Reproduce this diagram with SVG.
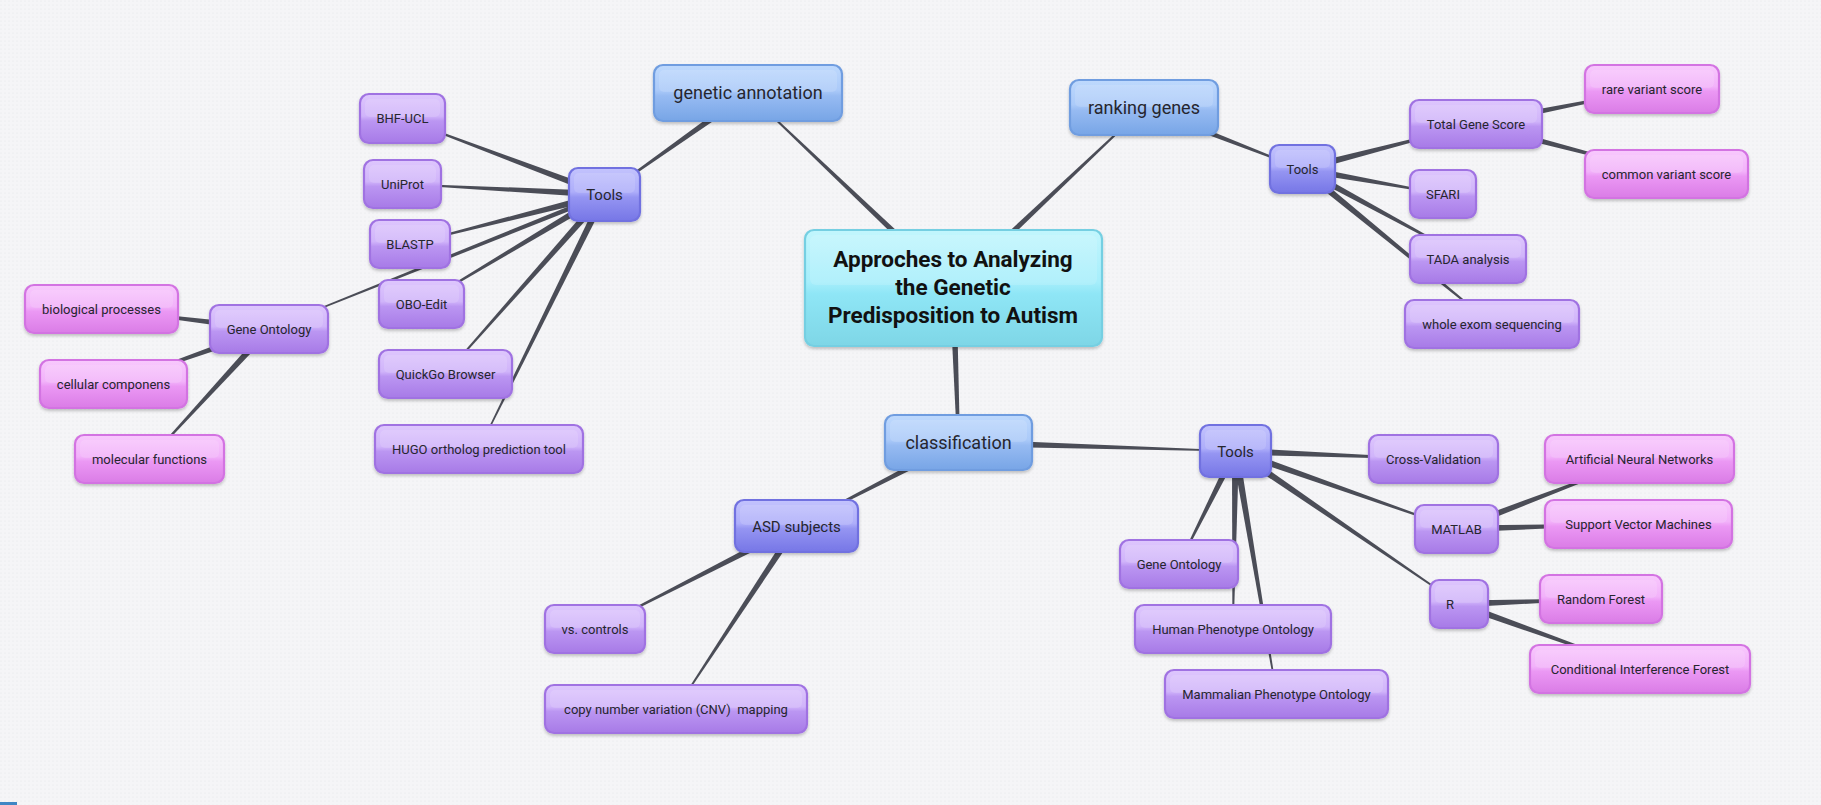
<svg xmlns="http://www.w3.org/2000/svg" width="1821" height="805" viewBox="0 0 1821 805">
<defs>
<pattern id="dots" width="4" height="4" patternUnits="userSpaceOnUse"><rect width="4" height="4" fill="#f5f5f7"/><circle cx="1" cy="1" r="0.6" fill="#e5e6ea"/></pattern>
<linearGradient id="g0" x1="0" y1="0" x2="0" y2="1"><stop offset="0" stop-color="#c2f6fd"/><stop offset="0.45" stop-color="#a6eefb"/><stop offset="0.55" stop-color="#8fe6f6"/><stop offset="1" stop-color="#7ed6e6"/></linearGradient>
<linearGradient id="g1" x1="0" y1="0" x2="0" y2="1"><stop offset="0" stop-color="#bed9fd"/><stop offset="0.45" stop-color="#abcaf9"/><stop offset="0.55" stop-color="#97bbf2"/><stop offset="1" stop-color="#77a5e6"/></linearGradient>
<linearGradient id="g2" x1="0" y1="0" x2="0" y2="1"><stop offset="0" stop-color="#c3c3fd"/><stop offset="0.45" stop-color="#aeaefa"/><stop offset="0.55" stop-color="#9595f2"/><stop offset="1" stop-color="#7676e6"/></linearGradient>
<linearGradient id="g3" x1="0" y1="0" x2="0" y2="1"><stop offset="0" stop-color="#dec7fd"/><stop offset="0.45" stop-color="#d0b4fa"/><stop offset="0.55" stop-color="#bb96f2"/><stop offset="1" stop-color="#a77ae7"/></linearGradient>
<linearGradient id="g4" x1="0" y1="0" x2="0" y2="1"><stop offset="0" stop-color="#f8c9fd"/><stop offset="0.45" stop-color="#f2b2fa"/><stop offset="0.55" stop-color="#eb98f4"/><stop offset="1" stop-color="#da7ce6"/></linearGradient>
<filter id="sh" x="-10%" y="-10%" width="120%" height="130%"><feDropShadow dx="0" dy="2" stdDeviation="1.5" flood-color="#000" flood-opacity="0.22"/></filter>
</defs>
<style>
.box{stroke-width:2.2;filter:url(#sh)}
.c0{fill:url(#g0);stroke:#74cfe2}
.c1{fill:url(#g1);stroke:#6f9de0}
.c2{fill:url(#g2);stroke:#7171e0}
.c3{fill:url(#g3);stroke:#a072e2}
.c4{fill:url(#g4);stroke:#d373e2}
.hl{fill:#ffffff;fill-opacity:0.13}
text{font-family:Roboto,"Liberation Sans",sans-serif;fill:#26262e;text-anchor:middle}
.t0{font-size:22.5px;font-weight:bold;fill:#111}
.t1{font-size:18px}
.t2{font-size:15px}
.t3{font-size:13px}
.conn polygon{fill:#4b4d57}
</style>
<rect width="1821" height="805" fill="url(#dots)"/>
<rect x="0" y="802" width="17" height="3" fill="#3f86c4"/>
<g id="connectors" class="conn">
<polygon points="955.4,285.5 748.4,92.6 747.6,93.4 950.6,290.5"/>
<polygon points="955.4,290.5 1144.4,107.9 1143.6,107.1 950.6,285.5"/>
<polygon points="949.5,288.1 957,442.6 960,442.4 956.5,287.9"/>
<polygon points="746,90.1 604.2,194 604.9,195 750,95.9"/>
<polygon points="605.7,191.2 402.7,117.9 402.3,119.1 603.3,197.8"/>
<polygon points="604.7,191 402.5,183.4 402.5,184.6 604.3,198"/>
<polygon points="603.6,191.1 409.9,243.4 410.2,244.6 605.4,197.9"/>
<polygon points="602.7,191.5 421.2,303.5 421.8,304.5 606.3,197.5"/>
<polygon points="601.9,192.2 445.1,373.6 446,374.4 607.1,196.8"/>
<polygon points="601.4,193 478.5,448.7 479.5,449.3 607.6,196"/>
<polygon points="603.6,192.2 268.8,328.4 269.2,329.6 605.4,196.8"/>
<polygon points="269.4,325.5 101.6,308.4 101.4,309.6 268.6,332.5"/>
<polygon points="267.8,325.7 113.3,383.4 113.7,384.6 270.2,332.3"/>
<polygon points="266.4,326.6 149.1,458.6 149.9,459.4 271.6,331.4"/>
<polygon points="1142.7,110.8 1302.3,169.6 1302.7,168.4 1145.3,104.2"/>
<polygon points="1303.4,172.4 1476.2,124.6 1475.9,123.4 1301.6,165.6"/>
<polygon points="1301.9,172.5 1442.9,194.6 1443.1,193.4 1303.1,165.5"/>
<polygon points="1300.8,172.1 1467.7,259.5 1468.3,258.5 1304.2,165.9"/>
<polygon points="1300.3,171.7 1491.6,324.5 1492.4,323.5 1304.7,166.3"/>
<polygon points="1476.7,127.4 1652.1,89.6 1651.9,88.4 1475.3,120.6"/>
<polygon points="1475.1,127.4 1666.4,174.6 1666.7,173.4 1476.9,120.6"/>
<polygon points="958.4,446 1235.5,451.6 1235.5,450.4 958.6,439"/>
<polygon points="956.9,439.4 796.2,525.5 796.8,526.5 960.1,445.6"/>
<polygon points="794.9,522.9 594.7,628.5 595.3,629.5 798.1,529.1"/>
<polygon points="793.6,524.1 675.5,708.7 676.5,709.3 799.4,527.9"/>
<polygon points="1235.4,454.5 1433.5,459.6 1433.5,458.4 1235.6,447.5"/>
<polygon points="1234.3,454.3 1456.3,529.6 1456.7,528.4 1236.7,447.7"/>
<polygon points="1233.5,453.9 1458.7,604.5 1459.3,603.5 1237.5,448.1"/>
<polygon points="1232.4,449.4 1178.5,563.7 1179.5,564.3 1238.6,452.6"/>
<polygon points="1232,450.95 1232.4,629 1233.6,629 1239,451.05"/>
<polygon points="1232,451.6 1275.9,694.1 1277.1,693.9 1239,450.4"/>
<polygon points="1457.8,532.3 1639.7,459.6 1639.3,458.4 1455.3,525.7"/>
<polygon points="1456.6,532.5 1638.5,524.6 1638.5,523.4 1456.4,525.5"/>
<polygon points="1459.1,607.5 1601,599.6 1601,598.4 1458.9,600.5"/>
<polygon points="1457.8,607.3 1639.8,669.6 1640.2,668.4 1460.2,600.7"/>
</g>
<g id="n-central"><rect class="box c0" x="805" y="230" width="297" height="116" rx="9"/><rect class="hl" x="810" y="235" width="287" height="50" rx="6"/><text class="t0" x="953" y="267">Approches to Analyzing</text><text class="t0" x="953" y="295">the Genetic</text><text class="t0" x="953" y="323">Predisposition to Autism</text></g>
<g id="n-genetic-annotation"><rect class="box c1" x="654" y="65" width="188" height="56" rx="9"/><rect class="hl" x="659" y="70" width="178" height="22" rx="5"/><text class="t1" x="748" y="99">genetic annotation</text></g>
<g id="n-ranking-genes"><rect class="box c1" x="1070" y="80" width="148" height="55" rx="9"/><rect class="hl" x="1075" y="85" width="138" height="22" rx="5"/><text class="t1" x="1144" y="114">ranking genes</text></g>
<g id="n-classification"><rect class="box c1" x="885" y="415" width="147" height="55" rx="9"/><rect class="hl" x="890" y="420" width="137" height="22" rx="5"/><text class="t1" x="958.5" y="449">classification</text></g>
<g id="n-tools-left"><rect class="box c2" x="569" y="168" width="71" height="53" rx="9"/><rect class="hl" x="574" y="173" width="61" height="20" rx="5"/><text class="t2" x="604.5" y="200">Tools</text></g>
<g id="n-tools-right"><rect class="box c2" x="1270" y="145" width="65" height="48" rx="9"/><rect class="hl" x="1275" y="150" width="55" height="18" rx="5"/><text class="t3" x="1302.5" y="173.5">Tools</text></g>
<g id="n-tools-bottom"><rect class="box c2" x="1200" y="425" width="71" height="52" rx="9"/><rect class="hl" x="1205" y="430" width="61" height="20" rx="5"/><text class="t2" x="1235.5" y="456.5">Tools</text></g>
<g id="n-asd"><rect class="box c2" x="735" y="500" width="123" height="52" rx="9"/><rect class="hl" x="740" y="505" width="113" height="20" rx="5"/><text class="t2" x="796.5" y="531.5">ASD subjects</text></g>
<g id="n-bhf"><rect class="box c3" x="360" y="94" width="85" height="49" rx="9"/><rect class="hl" x="365" y="99" width="75" height="18" rx="5"/><text class="t3" x="402.5" y="123">BHF-UCL</text></g>
<g id="n-uniprot"><rect class="box c3" x="364" y="160" width="77" height="48" rx="9"/><rect class="hl" x="369" y="165" width="67" height="18" rx="5"/><text class="t3" x="402.5" y="188.5">UniProt</text></g>
<g id="n-blastp"><rect class="box c3" x="370" y="220" width="80" height="48" rx="9"/><rect class="hl" x="375" y="225" width="70" height="18" rx="5"/><text class="t3" x="410" y="248.5">BLASTP</text></g>
<g id="n-obo"><rect class="box c3" x="379" y="280" width="85" height="48" rx="9"/><rect class="hl" x="384" y="285" width="75" height="18" rx="5"/><text class="t3" x="421.5" y="308.5">OBO-Edit</text></g>
<g id="n-quickgo"><rect class="box c3" x="379" y="350" width="133" height="48" rx="9"/><rect class="hl" x="384" y="355" width="123" height="18" rx="5"/><text class="t3" x="445.5" y="378.5">QuickGo Browser</text></g>
<g id="n-hugo"><rect class="box c3" x="375" y="425" width="208" height="48" rx="9"/><rect class="hl" x="380" y="430" width="198" height="18" rx="5"/><text class="t3" x="479" y="453.5">HUGO ortholog prediction tool</text></g>
<g id="n-go-left"><rect class="box c3" x="210" y="305" width="118" height="48" rx="9"/><rect class="hl" x="215" y="310" width="108" height="18" rx="5"/><text class="t3" x="269" y="333.5">Gene Ontology</text></g>
<g id="n-bio"><rect class="box c4" x="25" y="285" width="153" height="48" rx="9"/><rect class="hl" x="30" y="290" width="143" height="18" rx="5"/><text class="t3" x="101.5" y="313.5">biological processes</text></g>
<g id="n-cell"><rect class="box c4" x="40" y="360" width="147" height="48" rx="9"/><rect class="hl" x="45" y="365" width="137" height="18" rx="5"/><text class="t3" x="113.5" y="388.5">cellular componens</text></g>
<g id="n-mol"><rect class="box c4" x="75" y="435" width="149" height="48" rx="9"/><rect class="hl" x="80" y="440" width="139" height="18" rx="5"/><text class="t3" x="149.5" y="463.5">molecular functions</text></g>
<g id="n-tgs"><rect class="box c3" x="1410" y="100" width="132" height="48" rx="9"/><rect class="hl" x="1415" y="105" width="122" height="18" rx="5"/><text class="t3" x="1476" y="128.5">Total Gene Score</text></g>
<g id="n-rare"><rect class="box c4" x="1585" y="65" width="134" height="48" rx="9"/><rect class="hl" x="1590" y="70" width="124" height="18" rx="5"/><text class="t3" x="1652" y="93.5">rare variant score</text></g>
<g id="n-common"><rect class="box c4" x="1585" y="150" width="163" height="48" rx="9"/><rect class="hl" x="1590" y="155" width="153" height="18" rx="5"/><text class="t3" x="1666.5" y="178.5">common variant score</text></g>
<g id="n-sfari"><rect class="box c3" x="1410" y="170" width="66" height="48" rx="9"/><rect class="hl" x="1415" y="175" width="56" height="18" rx="5"/><text class="t3" x="1443" y="198.5">SFARI</text></g>
<g id="n-tada"><rect class="box c3" x="1410" y="235" width="116" height="48" rx="9"/><rect class="hl" x="1415" y="240" width="106" height="18" rx="5"/><text class="t3" x="1468" y="263.5">TADA analysis</text></g>
<g id="n-wes"><rect class="box c3" x="1405" y="300" width="174" height="48" rx="9"/><rect class="hl" x="1410" y="305" width="164" height="18" rx="5"/><text class="t3" x="1492" y="328.5">whole exom sequencing</text></g>
<g id="n-vs"><rect class="box c3" x="545" y="605" width="100" height="48" rx="9"/><rect class="hl" x="550" y="610" width="90" height="18" rx="5"/><text class="t3" x="595" y="633.5">vs. controls</text></g>
<g id="n-cnv"><rect class="box c3" x="545" y="685" width="262" height="48" rx="9"/><rect class="hl" x="550" y="690" width="252" height="18" rx="5"/><text class="t3" x="676" y="713.5" xml:space="preserve">copy number variation (CNV)  mapping</text></g>
<g id="n-cv"><rect class="box c3" x="1369" y="435" width="129" height="48" rx="9"/><rect class="hl" x="1374" y="440" width="119" height="18" rx="5"/><text class="t3" x="1433.5" y="463.5">Cross-Validation</text></g>
<g id="n-matlab"><rect class="box c3" x="1415" y="505" width="83" height="48" rx="9"/><rect class="hl" x="1420" y="510" width="73" height="18" rx="5"/><text class="t3" x="1456.5" y="533.5">MATLAB</text></g>
<g id="n-r"><rect class="box c3" x="1430" y="580" width="58" height="48" rx="9"/><rect class="hl" x="1435" y="585" width="48" height="18" rx="5"/><text class="t3" x="1450" y="608.5">R</text></g>
<g id="n-ann"><rect class="box c4" x="1545" y="435" width="189" height="48" rx="9"/><rect class="hl" x="1550" y="440" width="179" height="18" rx="5"/><text class="t3" x="1639.5" y="463.5">Artificial Neural Networks</text></g>
<g id="n-svm"><rect class="box c4" x="1545" y="500" width="187" height="48" rx="9"/><rect class="hl" x="1550" y="505" width="177" height="18" rx="5"/><text class="t3" x="1638.5" y="528.5">Support Vector Machines</text></g>
<g id="n-rf"><rect class="box c4" x="1540" y="575" width="122" height="48" rx="9"/><rect class="hl" x="1545" y="580" width="112" height="18" rx="5"/><text class="t3" x="1601" y="603.5">Random Forest</text></g>
<g id="n-cif"><rect class="box c4" x="1530" y="645" width="220" height="48" rx="9"/><rect class="hl" x="1535" y="650" width="210" height="18" rx="5"/><text class="t3" x="1640" y="673.5">Conditional Interference Forest</text></g>
<g id="n-go-bottom"><rect class="box c3" x="1120" y="540" width="118" height="48" rx="9"/><rect class="hl" x="1125" y="545" width="108" height="18" rx="5"/><text class="t3" x="1179" y="568.5">Gene Ontology</text></g>
<g id="n-hpo"><rect class="box c3" x="1135" y="605" width="196" height="48" rx="9"/><rect class="hl" x="1140" y="610" width="186" height="18" rx="5"/><text class="t3" x="1233" y="633.5">Human Phenotype Ontology</text></g>
<g id="n-mpo"><rect class="box c3" x="1165" y="670" width="223" height="48" rx="9"/><rect class="hl" x="1170" y="675" width="213" height="18" rx="5"/><text class="t3" x="1276.5" y="698.5">Mammalian Phenotype Ontology</text></g>
</svg>
